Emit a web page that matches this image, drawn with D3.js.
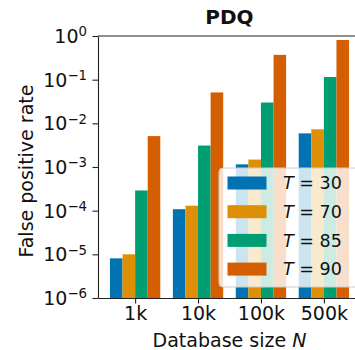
<!DOCTYPE html>
<html><head><meta charset="utf-8">
<script src="https://cdn.jsdelivr.net/npm/d3@7"></script>
<style>
body{margin:0;background:#fff;}
svg{display:block;font-family:"DejaVu Sans",sans-serif;}
</style></head>
<body><svg id="c" width="355" height="350"></svg>
<script>
const categories = ["1k", "10k", "100k", "500k"];
const seriesNames = ["30", "70", "85", "90"];
const t30 = [8.1e-6, 1.08e-4, 1.15e-3, 5.9e-3];
const t70 = [1.0e-5, 1.3e-4, 1.48e-3, 7.3e-3];
const t85 = [2.9e-4, 3.1e-3, 0.030, 0.115];
const t90 = [5.1e-3, 0.051, 0.37, 0.81];
const series = [t30, t70, t85, t90];
const colors = ["#0173b2", "#de8f05", "#029e73", "#d55e00"];
const yTicks = [1, 0.1, 0.01, 1e-3, 1e-4, 1e-5, 1e-6];
const yTickExp = ["0", "\u22121", "\u22122", "\u22123", "\u22124", "\u22125", "\u22126"];

const svg = d3.select("#c");
const L = 98, R = 361, T = 36, B = 298;
const x = d3.scaleLinear().domain([-0.59, 3.59]).range([L, R]);
const y = d3.scaleLog().domain([1e-6, 1]).range([B, T]);
const bw = 0.2;

// bars
series.forEach((vals, i) => {
  svg.append("g").selectAll("rect").data(vals).join("rect")
    .attr("x", (d, j) => x(j + (i - 1.5) * bw - bw / 2))
    .attr("width", (d, j) => x(j + bw) - x(j))
    .attr("y", d => y(d))
    .attr("height", d => B - y(d))
    .attr("fill", colors[i]);
});

// axes
const gy = svg.append("g").attr("transform", `translate(${L},0)`)
  .call(d3.axisLeft(y).tickValues(yTicks).tickFormat("").tickSize(5.5).tickSizeOuter(0));
gy.select(".domain").attr("stroke", "#222").attr("stroke-width", 1.1);
gy.selectAll(".tick line").attr("stroke", "#222").attr("stroke-width", 1.1);
yTicks.forEach((t, i) => {
  const tx = svg.append("text").attr("x", 87).attr("y", y(t) + 7)
    .attr("text-anchor", "end").attr("font-size", 19).attr("fill", "#111");
  tx.append("tspan").text("10");
  tx.append("tspan").attr("dy", -6.8).attr("font-size", 13.3).text(yTickExp[i]);
});

const gx = svg.append("g").attr("transform", `translate(0,${B})`)
  .call(d3.axisBottom(x).tickValues([0, 1, 2, 3]).tickFormat(i => categories[i]).tickSize(5.5).tickSizeOuter(0));
gx.select(".domain").attr("stroke", "#222").attr("stroke-width", 1.1);
gx.selectAll(".tick line").attr("stroke", "#222").attr("stroke-width", 1.1);
gx.selectAll(".tick text").attr("font-size", 19).attr("font-family", "DejaVu Sans")
  .attr("fill", "#111").attr("y", 9).attr("dy", "0.71em");

// top spine
svg.append("line").attr("x1", L).attr("x2", R).attr("y1", T).attr("y2", T)
  .attr("stroke", "#222").attr("stroke-width", 1.1);

// title and labels
svg.append("text").attr("x", (L + R) / 2).attr("y", 24).attr("text-anchor", "middle")
  .attr("font-size", 20).attr("font-weight", "bold").attr("fill", "#111").text("PDQ");
const xl = svg.append("text").attr("x", (L + R) / 2).attr("y", 347).attr("text-anchor", "middle")
  .attr("font-size", 19).attr("fill", "#111");
xl.append("tspan").text("Database size ");
xl.append("tspan").attr("font-style", "italic").text("N");
svg.append("text").attr("transform", "translate(33,171) rotate(-90)").attr("text-anchor", "middle")
  .attr("font-size", 19).attr("fill", "#111").text("False positive rate");

// legend
const lg = svg.append("g");
lg.append("rect").attr("x", 219).attr("y", 168).attr("width", 150).attr("height", 119)
  .attr("rx", 4).attr("fill", "#fff").attr("fill-opacity", 0.8)
  .attr("stroke", "#ccc").attr("stroke-width", 1);
seriesNames.forEach((s, i) => {
  const cy = 183 + i * 28.7;
  lg.append("rect").attr("x", 227.5).attr("y", cy - 6.5).attr("width", 39).attr("height", 13)
    .attr("fill", colors[i]);
  const t = lg.append("text").attr("x", 283).attr("y", cy + 6.3).attr("font-size", 17.5).attr("fill", "#111");
  t.append("tspan").attr("font-style", "italic").text("T");
  t.append("tspan").text(" = " + s);
});
</script></body></html>
